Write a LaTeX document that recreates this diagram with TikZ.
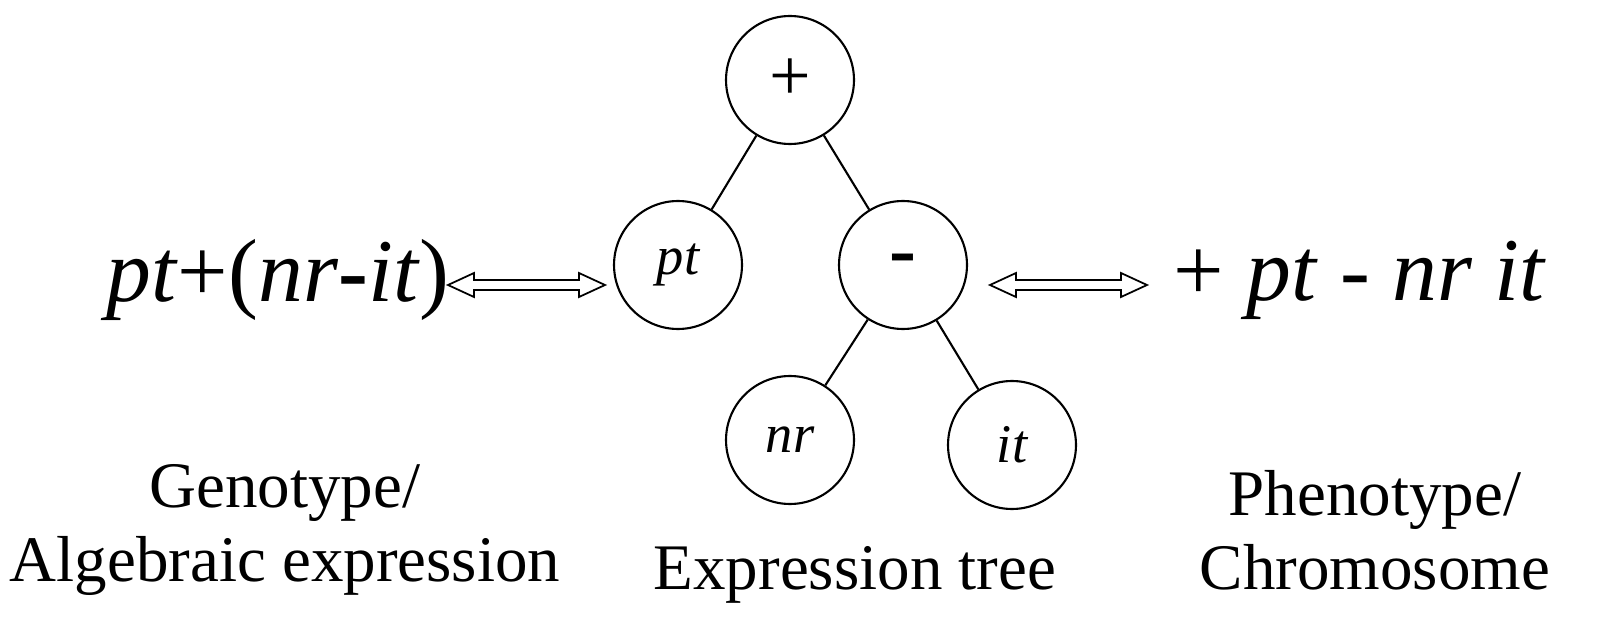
\documentclass[tikz,border=0pt]{standalone}
\usepackage{fontspec}
\setmainfont{Liberation Serif}
\usetikzlibrary{calc}
\begin{document}
\begin{tikzpicture}[x=0.02cm,y=-0.02cm,
  nd/.style={circle,draw,line width=1.2pt,minimum size=2.56cm,inner sep=0pt,font=\fontsize{31}{36}\selectfont\itshape},
  big/.style={font=\fontsize{51}{58}\selectfont},
  lab/.style={font=\fontsize{37}{42}\selectfont,align=center},
  edge/.style={line width=1.2pt},
  harr/.style={draw,line width=1pt,fill=white}]
\useasboundingbox (0,0) rectangle (1600,628);
\node[nd,font=\fontsize{42}{46}\selectfont] (plus) at (790,80) {+};
\node[nd] (pt) at (678,265) {pt};
\node[nd,font=\fontsize{46}{50}\selectfont\bfseries] (minus) at (903,265) {-};
\node[nd] (nr) at (790,440) {nr};
\node[nd] (it) at (1012,445) {it};
\draw[edge] (plus) -- (pt);
\draw[edge] (plus) -- (minus);
\draw[edge] (minus) -- (nr);
\draw[edge] (minus) -- (it);
\node[big,anchor=center] (geno) at (278,280) {\textit{pt}+(\textit{nr}\textbf{-}\textit{it})};
\node[big] (pheno) at (1360,280) {+ \textit{pt} - \textit{nr} \textit{it}};
\coordinate (la) at (448,285); \coordinate (lb) at (605,285);
\coordinate (ra) at (990,285); \coordinate (rb) at (1147,285);
\foreach \a/\b in {la/lb,ra/rb}{
  \path[harr] (\a) -- ++(26,-12) -- ++(0,7) -- ($(\b)+(-26,-5)$) -- ++(0,-7) -- (\b) -- ++(-26,12) -- ++(0,-7) -- ($(\a)+(26,5)$) -- ++(0,7) -- cycle;
}
\node[lab] (g) at (285,530) {Genotype/\\Algebraic expression};
\node[lab] (e) at (855,575) {Expression tree};
\node[lab] (p) at (1375,530) {Phenotype/\\Chromosome};
\end{tikzpicture}
\end{document}
